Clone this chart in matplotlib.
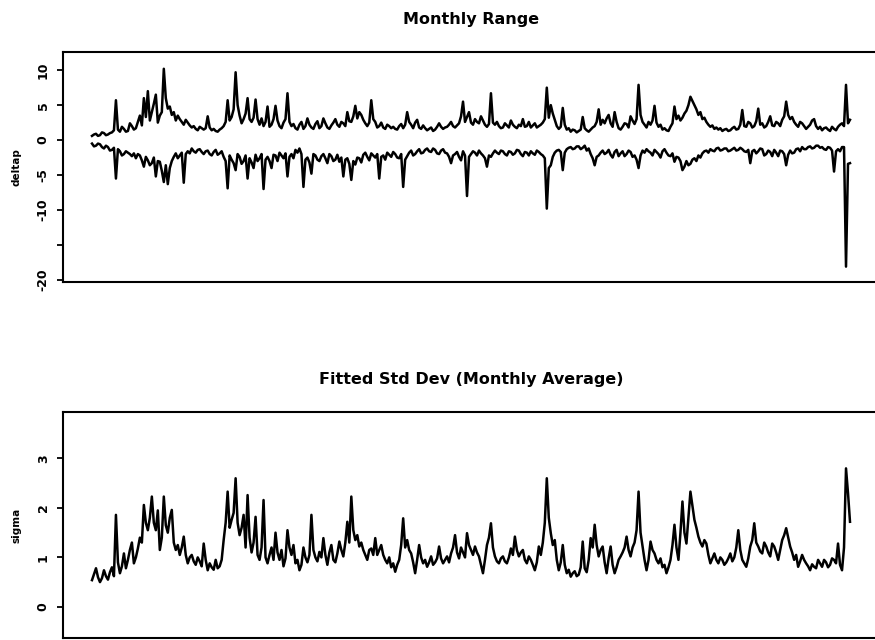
import numpy as np
import matplotlib
matplotlib.use("Agg")
import matplotlib.pyplot as plt

# Monthly high/low price changes (top panel)
range_high = [
    0.6, 0.8, 0.9, 0.6, 0.7, 1.1, 1.0, 0.7, 0.8, 1.0, 1.1, 1.4, 5.7, 1.5, 1.2, 1.9,
    1.6, 1.2, 1.3, 2.4, 2.0, 1.5, 1.7, 2.6, 3.5, 2.1, 6.0, 3.3, 7.0, 2.8, 4.0, 5.2,
    6.5, 2.5, 3.5, 4.0, 10.2, 6.0, 4.5, 4.8, 3.6, 4.0, 2.8, 3.5, 3.0, 2.6, 2.2, 2.9,
    2.5, 2.1, 1.8, 2.0, 1.6, 1.4, 1.9, 1.7, 1.5, 1.7, 3.4, 1.8, 1.4, 1.6, 1.3, 1.2,
    1.5, 1.7, 2.0, 2.6, 5.7, 2.8, 3.3, 4.4, 9.7, 5.0, 3.5, 2.4, 3.0, 3.8, 6.0, 3.0,
    2.6, 3.2, 5.8, 3.0, 2.2, 3.1, 2.0, 2.6, 4.8, 1.9, 2.2, 3.0, 4.9, 2.8, 2.0, 1.7,
    2.5, 3.0, 6.7, 2.6, 2.0, 2.3, 1.7, 1.5, 2.2, 2.6, 1.6, 2.0, 3.1, 2.2, 1.8, 1.6,
    2.3, 2.7, 1.7, 2.0, 3.1, 2.4, 1.8, 1.6, 2.1, 2.5, 3.0, 2.2, 1.9, 2.6, 2.4, 2.0,
    4.0, 2.7, 2.6, 3.4, 4.9, 3.1, 4.0, 3.6, 2.9, 2.4, 2.0, 2.5, 5.7, 3.0, 2.6, 1.8,
    2.0, 2.5, 1.8, 1.6, 2.2, 2.0, 1.7, 1.9, 1.6, 1.5, 2.0, 2.3, 1.7, 2.2, 4.0, 2.6,
    2.2, 1.7, 2.5, 2.9, 1.8, 1.6, 2.1, 1.7, 1.4, 1.6, 1.8, 1.3, 1.5, 1.9, 2.4, 1.9,
    1.6, 1.8, 1.9, 2.2, 2.6, 2.0, 1.8, 2.1, 2.4, 3.4, 5.5, 2.6, 3.3, 4.0, 2.5, 2.2,
    3.0, 2.6, 2.4, 3.4, 2.8, 2.2, 1.9, 2.3, 6.7, 2.5, 2.2, 2.6, 2.0, 1.7, 1.8, 2.4,
    2.1, 1.8, 2.8, 2.2, 1.9, 1.7, 2.2, 2.0, 3.0, 1.9, 2.0, 2.6, 1.8, 2.1, 2.4, 1.8,
    2.0, 2.2, 2.5, 3.0, 7.5, 3.2, 5.0, 3.8, 2.9, 2.0, 1.6, 1.9, 4.6, 2.2, 1.5, 1.7,
    1.2, 1.5, 1.4, 1.1, 1.3, 1.5, 3.3, 1.7, 1.4, 1.2, 1.5, 1.8, 2.0, 2.6, 4.4, 2.2,
    2.9, 2.4, 3.1, 3.6, 2.4, 1.9, 4.0, 2.6, 1.7, 1.5, 1.9, 2.4, 2.3, 1.8, 3.4, 2.8,
    2.3, 3.0, 7.9, 3.6, 2.6, 2.2, 1.8, 2.6, 2.2, 2.8, 4.9, 2.5, 1.9, 2.2, 1.5, 1.7,
    1.4, 1.3, 1.9, 2.4, 4.8, 3.0, 3.5, 2.8, 3.2, 3.8, 4.2, 5.0, 6.2, 5.6, 5.0, 4.4,
    3.6, 4.0, 3.0, 3.2, 2.6, 2.2, 1.9, 2.1, 1.6, 1.8, 1.5, 1.7, 1.3, 1.5, 1.6, 1.3,
    1.4, 1.7, 1.9, 1.5, 1.6, 2.2, 4.3, 2.0, 1.9, 2.6, 2.4, 1.8, 2.0, 2.7, 4.5, 2.2,
    2.4, 1.8, 2.0, 2.6, 3.4, 2.1, 2.0, 2.6, 2.4, 2.0, 2.9, 3.4, 5.5, 3.6, 3.0, 3.3,
    2.6, 2.2, 1.9, 2.6, 2.4, 2.0, 1.6, 1.9, 2.2, 2.8, 3.0, 2.0, 1.6, 1.9, 1.4, 1.7,
    1.8, 1.5, 1.3, 1.9, 1.6, 1.4, 1.9, 2.2, 2.4, 2.0, 7.9, 2.4, 2.9,
]

range_low = [
    -0.5, -0.9, -0.8, -0.5, -0.6, -1.0, -1.2, -0.8, -1.0, -1.5, -1.4, -1.1, -5.5, -1.3, -1.6, -2.2,
    -2.0, -1.6, -1.8, -2.0, -2.3, -1.9, -2.6, -2.0, -2.2, -2.9, -3.8, -2.4, -2.9, -3.6, -3.3, -2.5,
    -5.2, -3.0, -3.1, -4.4, -6.0, -3.6, -6.3, -4.0, -3.0, -2.4, -1.9, -2.6, -2.2, -1.8, -6.1, -2.0,
    -1.6, -1.9, -1.2, -1.6, -1.8, -1.4, -1.3, -1.7, -2.0, -1.6, -1.5, -2.0, -2.2, -1.7, -1.4, -2.1,
    -1.9, -1.6, -2.4, -3.0, -6.9, -2.2, -2.8, -3.3, -4.3, -2.0, -2.4, -3.4, -3.0, -2.2, -5.5, -2.6,
    -3.2, -4.0, -2.1, -3.0, -2.6, -2.0, -7.0, -2.8, -2.4, -3.0, -4.0, -2.1, -2.2, -3.0, -1.8, -2.2,
    -2.6, -1.9, -5.2, -2.4, -2.0, -2.6, -1.4, -1.8, -1.2, -2.0, -6.7, -2.8, -2.5, -3.2, -4.8, -2.0,
    -2.2, -2.8, -3.0, -2.3, -2.0, -2.6, -3.3, -2.0, -2.3, -3.0, -2.8, -2.1, -3.1, -2.5, -5.2, -2.8,
    -2.6, -3.4, -5.7, -3.0, -3.5, -2.5, -2.6, -3.2, -2.1, -1.8, -2.4, -2.9, -1.9, -2.2, -2.5, -2.0,
    -5.5, -2.4, -2.2, -2.8, -1.8, -2.1, -2.4, -1.7, -2.0, -2.5, -2.6, -2.0, -6.7, -2.8, -2.3, -1.8,
    -1.5, -2.2, -2.0, -1.6, -1.3, -1.9, -1.8, -1.4, -1.2, -1.6, -1.7, -1.2, -1.4, -1.9, -2.0, -1.5,
    -1.3, -1.8, -1.9, -2.4, -3.3, -2.2, -2.0, -1.7, -2.4, -2.9, -1.6, -2.2, -8.0, -2.4, -2.0, -1.6,
    -1.8, -2.2, -1.5, -1.9, -2.2, -2.6, -3.8, -2.2, -2.4, -1.9, -1.5, -1.8, -2.0, -1.5, -1.6, -2.0,
    -2.2, -1.6, -1.7, -2.1, -1.9, -1.4, -1.5, -2.0, -2.3, -1.7, -1.8, -2.2, -1.6, -1.9, -2.1, -1.5,
    -1.7, -2.0, -2.2, -2.6, -9.8, -4.0, -3.6, -2.4, -1.8, -1.5, -1.4, -1.7, -4.3, -1.8, -1.3, -1.1,
    -1.0, -1.3, -1.2, -0.9, -0.9, -1.3, -1.1, -0.8, -1.5, -1.2, -2.0, -2.6, -3.6, -2.4, -2.2, -1.8,
    -1.5, -2.0, -1.8, -1.4, -2.1, -2.5, -1.7, -1.4, -2.3, -1.9, -1.6, -2.3, -2.0, -1.5, -1.7, -2.4,
    -2.2, -2.8, -4.0, -2.2, -1.5, -1.8, -1.3, -1.6, -1.8, -2.2, -1.4, -1.7, -2.0, -2.5, -1.6, -1.3,
    -1.8, -2.2, -2.3, -1.9, -3.1, -2.4, -2.5, -3.0, -4.3, -3.8, -3.0, -3.6, -3.4, -2.8, -2.6, -3.0,
    -2.2, -2.5, -1.9, -1.6, -1.5, -1.8, -1.3, -1.5, -1.6, -1.2, -1.1, -1.5, -1.4, -1.2, -1.2, -1.6,
    -1.5, -1.3, -1.1, -1.5, -1.4, -1.1, -1.3, -1.6, -1.7, -1.4, -3.3, -1.6, -1.4, -1.9, -1.6, -1.2,
    -1.3, -2.2, -2.0, -1.5, -1.7, -2.3, -1.4, -1.8, -2.3, -1.5, -1.6, -2.0, -3.6, -2.1, -1.5, -1.9,
    -1.8, -1.3, -1.2, -1.6, -1.0, -1.3, -1.3, -1.0, -0.9, -1.2, -1.1, -0.8, -0.8, -1.1, -1.0, -1.3,
    -1.4, -1.0, -1.1, -1.5, -4.5, -1.6, -1.3, -1.6, -1.0, -1.0, -18.1, -3.4, -3.3,
]

# Fitted standard deviation, monthly average (bottom panel)
sigma = [
    0.54, 0.66, 0.78, 0.60, 0.50, 0.58, 0.74, 0.62, 0.55, 0.70, 0.80, 0.62, 1.86, 0.90, 0.68, 0.82,
    1.08, 0.78, 0.95, 1.15, 1.30, 0.88, 1.00, 1.18, 1.40, 1.30, 2.06, 1.70, 1.55, 1.80, 2.23, 1.70,
    1.55, 1.95, 1.15, 1.40, 2.23, 1.65, 1.50, 1.80, 1.96, 1.30, 1.15, 1.25, 1.05, 1.20, 1.42, 1.05,
    0.88, 1.00, 1.05, 0.92, 0.85, 1.00, 0.92, 0.82, 1.28, 0.95, 0.74, 0.88, 0.80, 0.75, 0.95, 0.78,
    0.82, 0.95, 1.35, 1.70, 2.33, 1.60, 1.76, 1.90, 2.60, 1.70, 1.45, 1.60, 1.86, 1.20, 2.26, 1.40,
    1.10, 1.30, 1.82, 1.05, 0.95, 1.20, 2.16, 1.00, 0.88, 1.05, 1.20, 0.95, 1.50, 1.10, 0.95, 1.15,
    0.82, 0.98, 1.55, 1.20, 1.05, 1.25, 0.88, 0.95, 0.74, 0.85, 1.20, 1.00, 0.90, 1.05, 1.86, 1.15,
    1.00, 0.92, 1.11, 1.00, 1.39, 1.05, 0.85, 1.10, 1.25, 0.95, 0.90, 1.08, 1.32, 1.15, 1.02, 1.30,
    1.72, 1.30, 2.23, 1.55, 1.35, 1.45, 1.22, 1.30, 1.15, 1.05, 0.95, 1.15, 1.18, 1.05, 1.39, 1.05,
    1.15, 1.25, 1.05, 0.95, 0.88, 1.00, 0.80, 0.88, 0.71, 0.85, 0.95, 1.25, 1.79, 1.20, 1.35, 1.15,
    1.08, 0.90, 0.68, 0.95, 1.25, 1.00, 0.88, 0.95, 0.81, 0.90, 1.02, 0.85, 0.90, 0.98, 1.22, 0.98,
    0.88, 0.95, 1.02, 0.90, 1.08, 1.20, 1.45, 1.10, 0.98, 1.20, 1.10, 1.00, 1.49, 1.25, 1.15, 1.05,
    1.22, 1.10, 1.02, 0.85, 0.68, 0.95, 1.25, 1.40, 1.69, 1.20, 1.02, 0.92, 0.88, 0.98, 1.02, 0.92,
    0.88, 1.00, 1.18, 1.05, 1.42, 1.15, 1.02, 1.10, 1.15, 0.95, 0.88, 1.02, 0.95, 0.85, 0.74, 0.90,
    1.22, 1.05, 1.30, 1.70, 2.60, 1.80, 1.49, 1.25, 1.35, 0.95, 0.74, 0.90, 1.25, 0.85, 0.68, 0.75,
    0.61, 0.68, 0.72, 0.62, 0.65, 0.80, 1.32, 0.78, 0.70, 0.95, 1.39, 1.20, 1.66, 1.25, 1.02, 1.15,
    1.22, 0.90, 0.68, 0.98, 1.22, 0.85, 0.68, 0.80, 0.95, 1.02, 1.10, 1.20, 1.42, 1.15, 1.02, 1.20,
    1.30, 1.55, 2.33, 1.50, 1.22, 0.95, 0.74, 0.95, 1.32, 1.15, 1.08, 0.95, 0.88, 0.98, 0.80, 0.85,
    0.68, 0.80, 0.95, 1.25, 1.66, 1.20, 0.95, 1.50, 2.13, 1.50, 1.28, 1.80, 2.33, 2.05, 1.76, 1.60,
    1.42, 1.30, 1.22, 1.35, 1.28, 1.05, 0.88, 0.98, 1.08, 0.95, 0.88, 1.00, 0.95, 0.85, 0.90, 0.98,
    1.08, 0.92, 1.00, 1.20, 1.55, 1.15, 0.95, 0.88, 0.81, 0.98, 1.22, 1.35, 1.69, 1.30, 1.22, 1.12,
    1.08, 1.30, 1.22, 1.10, 1.02, 1.28, 1.22, 1.10, 0.95, 1.15, 1.35, 1.45, 1.59, 1.40, 1.22, 1.10,
    0.95, 1.05, 0.81, 0.92, 1.05, 0.95, 0.88, 0.82, 0.74, 0.86, 0.81, 0.78, 0.95, 0.88, 0.81, 0.95,
    0.90, 0.80, 0.85, 0.98, 0.95, 0.88, 1.28, 0.85, 0.74, 1.20, 2.80, 2.30, 1.72,
]

top_ticks = [10, 5, 0, -5, -10, -15, -20]
top_tick_labels = ["10", "5", "0", "-5", "-10", "", "-20"]
bottom_ticks = [0, 1, 2, 3]
bottom_tick_labels = ["0", "1", "2", "3"]

t = np.arange(len(range_high))

W, H = 875, 640
fig = plt.figure(figsize=(W / 100, H / 100), dpi=100)
fig.patch.set_facecolor("white")

FONT = "DejaVu Sans"
LW = 1.8


def panel_box(x0, y_top, x1, y_bot):
    return [x0 / W, 1 - y_bot / H, (x1 - x0) / W, (y_bot - y_top) / H]


def style(ax, ticks, labels, ylabel, title):
    for side in ("left", "top", "bottom", "right"):
        ax.spines[side].set_linewidth(1.5)
        ax.spines[side].set_color("black")
    ax.set_xticks([])
    ax.set_yticks(ticks)
    ax.set_yticklabels(labels, rotation=90, va="center",
                       fontfamily=FONT, fontweight="bold", fontsize=9)
    ax.tick_params(axis="y", direction="out", length=4.5, width=1.3, pad=5)
    ax.set_ylabel(ylabel, fontfamily=FONT, fontweight="bold", fontsize=7.5,
                  labelpad=11)
    ax.set_title(title, fontfamily=FONT, fontweight="bold", fontsize=11.5,
                 pad=20)


# x-span: first sample sits a little right of the left axis
step = 758 / (len(t) - 1)
xlim = (-(92 - 63) / step, (880 - 92) / step)

ax1 = fig.add_axes(panel_box(63, 52, 880, 282))
ax1.plot(t, range_high, color="black", lw=LW)
ax1.plot(t, range_low, color="black", lw=LW)
ax1.set_xlim(*xlim)
ax1.set_ylim(-20.3, 12.6)
style(ax1, top_ticks, top_tick_labels, "deltap", "Monthly Range")

ax2 = fig.add_axes(panel_box(63, 412, 880, 638))
ax2.plot(t, sigma, color="black", lw=LW)
ax2.set_xlim(*xlim)
ax2.set_ylim(-0.63, 3.94)
style(ax2, bottom_ticks, bottom_tick_labels, "sigma",
      "Fitted Std Dev (Monthly Average)")

fig.savefig("out.png", dpi=100, facecolor="white")
